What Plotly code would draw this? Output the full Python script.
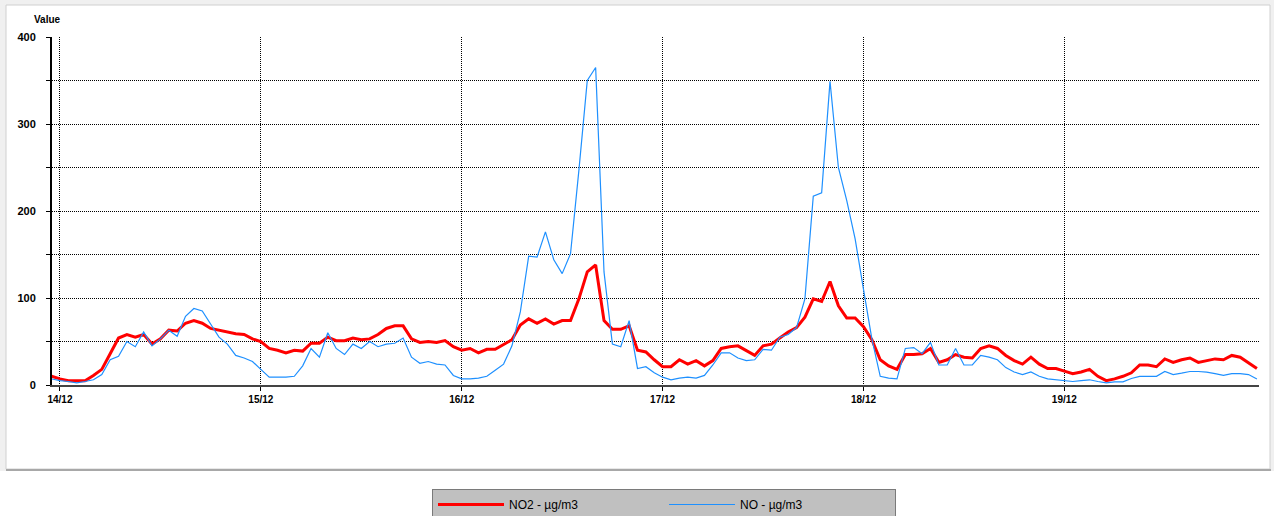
import pandas as pd
import plotly.graph_objects as go

# hourly timestamps from 13/12 23:00 to 19/12 23:00
times = pd.date_range("2016-12-13 23:00", periods=145, freq="h")

no2 = [10, 7, 5, 5, 5, 11, 18, 36, 54, 58, 55, 58, 47, 53, 63, 62, 71, 74, 71, 65, 63, 61, 59, 58, 53,
       50, 42, 40, 37, 40, 39, 48, 48, 55, 51, 51, 54, 52, 53, 58, 65, 68, 68, 53, 49, 50, 49, 51, 44,
       40, 42, 37, 41, 41, 47, 52, 69, 76, 71, 76, 70, 74, 74, 99, 130, 138, 74, 64, 64, 68, 40, 38, 29,
       21, 21, 29, 24, 28, 22, 28, 42, 44, 45, 39, 34, 45, 47, 54, 61, 66, 78, 99, 96, 119, 91, 77, 77,
       67, 52, 29, 22, 18, 35, 35, 36, 42, 26, 29, 35, 32, 31, 42, 45, 42, 34, 28, 24, 32, 24, 19, 19,
       16, 13, 15, 18, 10, 5, 7, 10, 14, 23, 23, 21, 30, 26, 29, 31, 26, 28, 30, 29, 34, 32, 26, 19]

no = [7, 5, 4, 2.5, 4, 6, 12, 29, 33, 50, 44, 61, 45, 53, 63, 56, 79, 88, 85, 70, 55, 47, 34, 31, 27,
      18, 9, 9, 9, 10, 22, 42, 32, 60, 42, 35, 47, 42, 50, 44, 47, 48, 54, 32, 25, 27, 24, 23, 11,
      7, 7, 8, 10, 17, 24, 45, 84, 148, 147, 176, 144, 128, 151, 247, 350, 365, 130, 47, 44, 74, 19, 21, 14,
      9, 6, 8, 9, 8, 11, 23, 37, 37, 31, 28, 29, 41, 40, 55, 58, 66, 99, 217, 221, 349, 250, 212, 168,
      110, 53, 10, 8, 7, 42, 43, 36, 49, 23, 23, 42, 23, 23, 34, 32, 29, 20, 15, 12, 15, 10, 7, 6,
      5, 4, 5, 6, 4, 2.5, 3.7, 3.7, 7.5, 10, 10, 10, 15.5, 12, 13.6, 15.5, 15.5, 14.8, 13, 11, 13, 13, 12, 7]

y_tickvals = [0, 50, 100, 150, 200, 250, 300, 350, 400]
y_ticktext = ["0", "", "100", "", "200", "", "300", "", "400"]

W, H = 1274, 516
L, R, T, B = 52, 15, 37, 131
PW, PH = W - L - R, H - T - B


def px2x(px):
    return (px - L) / PW


def py2y(py):
    return (H - B - py) / PH


fig = go.Figure()
fig.add_trace(go.Scatter(x=times, y=no2, mode="lines", name="NO2 - µg/m3",
                         line=dict(color="#ff0000", width=3)))
fig.add_trace(go.Scatter(x=times, y=no, mode="lines", name="NO - µg/m3",
                         line=dict(color="#1e90ff", width=1.2)))

shapes = [
    dict(type="rect", xref="paper", yref="paper", layer="below",
         x0=px2x(0), x1=px2x(W), y0=py2y(471), y1=py2y(0),
         fillcolor="#f0f0f0", line=dict(width=0)),
    dict(type="rect", xref="paper", yref="paper", layer="below",
         x0=px2x(6), x1=px2x(1270), y0=py2y(469), y1=py2y(5),
         fillcolor="white", line=dict(color="#d0d0d0", width=1)),
    dict(type="line", xref="paper", yref="paper", layer="below",
         x0=px2x(6), x1=px2x(1271), y0=py2y(470), y1=py2y(470),
         line=dict(color="#a8a8a8", width=2)),
]

fig.update_layout(
    width=W, height=H,
    margin=dict(l=L, r=R, t=T, b=B, autoexpand=False),
    paper_bgcolor="white",
    plot_bgcolor="white",
    font=dict(family="Liberation Sans, Arial, sans-serif", color="black"),
    shapes=shapes,
    showlegend=True,
    legend=dict(orientation="h", xref="container", yref="container",
                x=664 / W, xanchor="center", y=1 - 489 / H, yanchor="top",
                bgcolor="#c0c0c0", bordercolor="#7a7a7a", borderwidth=1,
                font=dict(size=12, color="black"), itemwidth=66, entrywidth=150,
                tracegroupgap=0),
    annotations=[dict(text="Value", xref="paper", yref="paper", x=px2x(32), y=py2y(19),
                      xanchor="left", yanchor="middle", showarrow=False,
                      font=dict(size=10, weight="bold", color="black"))],
)

fig.update_xaxes(
    type="date",
    range=["2016-12-13 23:03", "2016-12-19 23:15"],
    tick0="2016-12-14", dtick=86400000, tickformat="%d/%m",
    showgrid=True, gridcolor="black", gridwidth=1, griddash="1px,1px",
    showline=True, linecolor="#444444", linewidth=2,
    ticks="outside", ticklen=4, tickcolor="black",
    tickfont=dict(size=10, weight="bold", color="black"),
    zeroline=False, fixedrange=True,
)
fig.update_yaxes(
    range=[0, 400],
    tickvals=y_tickvals, ticktext=y_ticktext,
    showgrid=True, gridcolor="black", gridwidth=1, griddash="1px,1px",
    showline=True, linecolor="black", linewidth=2,
    ticks="outside", ticklen=4, tickcolor="black",
    tickfont=dict(size=11, weight="bold", color="black"),
    ticklabelstandoff=8,
    zeroline=False, fixedrange=True,
)

fig.write_html("out.html",
               config={"displayModeBar": False},
               post_script="document.body.style.margin='0';document.body.style.padding='0';"
                           "document.body.style.overflow='hidden';")
